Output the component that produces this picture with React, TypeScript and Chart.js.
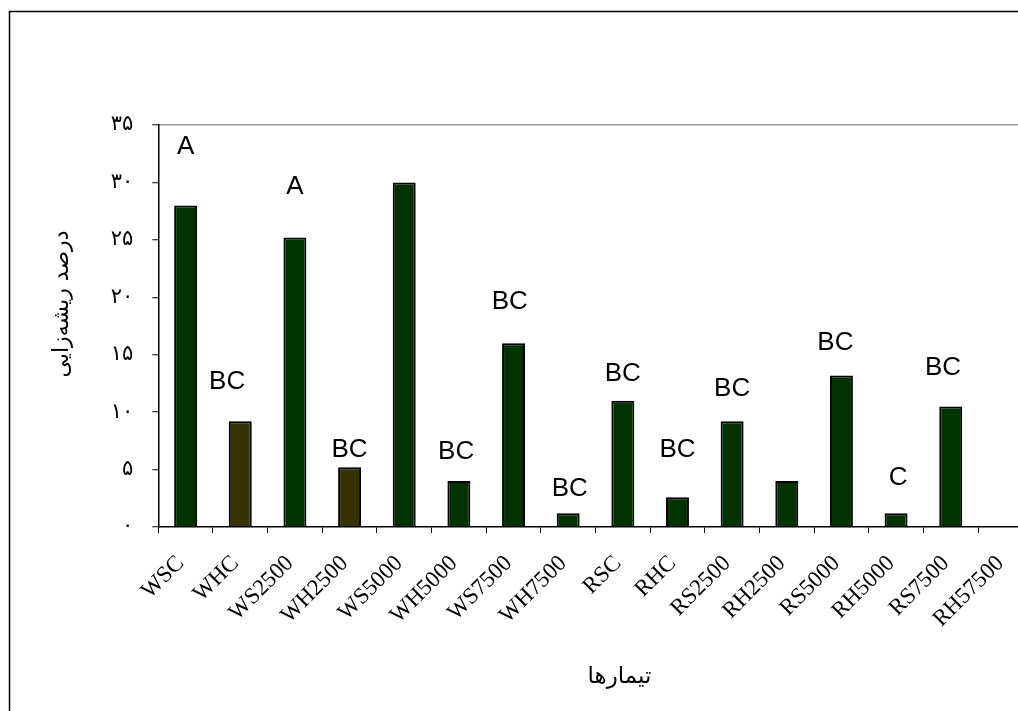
import React, { useEffect, useRef } from 'react';
import { Chart, registerables } from 'chart.js';

Chart.register(...registerables);

const categories = ['WSC', 'WHC', 'WS2500', 'WH2500', 'WS5000', 'WH5000', 'WS7500', 'WH7500', 'RSC', 'RHC', 'RS2500', 'RH2500', 'RS5000', 'RH5000', 'RS7500', 'RH57500'];
const rootingPercent = [28.0, 9.2, 25.2, 5.2, 30.0, 4.0, 16.0, 1.2, 11.0, 2.6, 9.2, 4.0, 13.2, 1.2, 10.5, 0];
const groupLetters = ['A', 'BC', 'A', 'BC', '', 'BC', 'BC', 'BC', 'BC', 'BC', 'BC', '', 'BC', 'C', 'BC', ''];
const letterLevels = [33.1, 12.65, 29.6, 6.7, 0, 6.55, 19.6, 3.28, 13.3, 6.7, 12.06, 0, 16.0, 4.24, 13.9, 0];
const letterShift = [0, -0.24, 0, 0, 0, -0.05, -0.07, 0.03, 0, 0, 0, 0, -0.11, 0.04, -0.14, 0];
const barKinds = ['g', 'b', 'g', 'b', 'g', 'g', 'g', 'g', 'g', 'g', 'g', 'g', 'g', 'g', 'g', 'g'];
const yTickValues = [0, 5, 10, 15, 20, 25, 30, 35];
const yTitle = 'درصد ریشه‌زایی';
const xTitle = 'تیمارها';

const GREEN = '#003300';
const BROWN = '#333300';

const toPersian = (n: number | string) =>
  String(n).replace(/\d/g, (d) => '۰۱۲۳۴۵۶۷۸۹'[Number(d)]);

const CANVAS_W = 1050;
const CANVAS_H = 711;

const decorPlugin = {
  id: 'decor',
  afterDraw(chart: any) {
    const { ctx, chartArea, scales } = chart;
    const xs = scales.x;
    const ys = scales.y;
    ctx.save();
    // outer frame
    ctx.strokeStyle = '#000';
    ctx.lineWidth = 1.5;
    ctx.strokeRect(9.5, 11.5, 3000, 3000);
    // group letters
    ctx.fillStyle = '#000';
    ctx.font = '26px "Liberation Sans", Arial, sans-serif';
    ctx.textAlign = 'center';
    ctx.textBaseline = 'middle';
    groupLetters.forEach((t, i) => {
      if (!t) return;
      const px = xs.getPixelForValue(i + letterShift[i]);
      const py = ys.getPixelForValue(letterLevels[i]);
      ctx.fillText(t, px, py);
    });
    // axis titles
    ctx.font = '22px "DejaVu Sans", sans-serif';
    ctx.save();
    ctx.translate(62, (chartArea.top + chartArea.bottom) / 2 - 22);
    ctx.rotate(-Math.PI / 2);
    ctx.fillText(yTitle, 0, 0);
    ctx.restore();
    ctx.font = '23px "DejaVu Sans", sans-serif';
    ctx.fillText(xTitle, (chartArea.left + chartArea.right) / 2 + 24, 677);
    ctx.restore();
  },
};

export default function App() {
  const ref = useRef<HTMLCanvasElement | null>(null);

  useEffect(() => {
    if (!ref.current) return;
    const chart = new Chart(ref.current, {
      type: 'bar',
      data: {
        labels: categories,
        datasets: [
          {
            data: rootingPercent,
            backgroundColor: barKinds.map((k) => (k === 'b' ? BROWN : GREEN)),
            borderColor: '#000',
            borderWidth: 2,
            categoryPercentage: 1,
            barPercentage: 0.42,
          },
        ],
      },
      options: {
        animation: false,
        responsive: false,
        devicePixelRatio: 1,
        layout: { padding: { top: 125, right: CANVAS_W - 1032.7, left: 0, bottom: 0 } },
        plugins: {
          legend: { display: false },
          tooltip: { enabled: false },
        },
        scales: {
          x: {
            offset: true,
            grid: {
              display: true,
              drawOnChartArea: false,
              offset: true,
              tickColor: '#000',
              tickLength: 6,
              tickWidth: 1,
            },
            border: { display: true, color: '#000', width: 1.5 },
            ticks: {
              color: '#000',
              autoSkip: false,
              maxRotation: 45,
              minRotation: 45,
              padding: 17,
              labelOffset: -5,
              font: { family: '"Liberation Serif", "Times New Roman", serif', size: 23 },
            },
            afterFit: (s: any) => {
              s.height = CANVAS_H - 527;
            },
          },
          y: {
            min: 0,
            max: 35,
            afterBuildTicks: (s: any) => {
              s.ticks = yTickValues.map((v) => ({ value: v }));
            },
            grid: {
              color: (c: any) => (c.tick && c.tick.value === 35 ? '#9a9a9a' : 'rgba(0,0,0,0)'),
              lineWidth: 1.5,
              tickColor: '#000',
              tickLength: 6,
              tickWidth: 1,
            },
            border: { display: true, color: '#000', width: 1.5 },
            ticks: {
              color: '#000',
              padding: 19,
              font: { family: '"DejaVu Sans", sans-serif', size: 21 },
              callback: (v: any) => toPersian(v),
            },
            afterFit: (s: any) => {
              s.width = 158.3;
            },
          },
        },
      },
      plugins: [decorPlugin],
    });
    return () => chart.destroy();
  }, []);

  return (
    <div style={{ position: 'fixed', left: 0, top: 0, width: '100vw', height: '100vh', overflow: 'hidden', background: '#fff' }}>
      <canvas ref={ref} width={CANVAS_W} height={CANVAS_H} style={{ display: 'block', width: CANVAS_W, height: CANVAS_H }} />
    </div>
  );
}
